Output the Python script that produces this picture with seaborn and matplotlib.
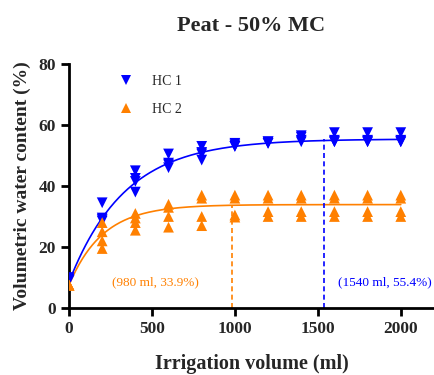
import numpy as np
import pandas as pd
import matplotlib
matplotlib.use("Agg")
import matplotlib.pyplot as plt
import seaborn as sns

# -----------------------
# DATA
# -----------------------
volumes = [0, 200, 400, 600, 800, 1000, 1200, 1400, 1600, 1800, 2000]

hc1_reps = [
    [9.5, 9.5, 10.0, 9.0],
    [34.5, 29.5, 29.0, 28.5],
    [45.0, 42.5, 41.5, 38.0],
    [50.5, 47.5, 47.0, 46.0],
    [53.0, 51.0, 50.5, 48.5],
    [54.0, 53.5, 53.0, 53.0],
    [54.5, 54.5, 54.0, 54.0],
    [56.5, 56.0, 55.0, 54.5],
    [57.5, 55.0, 54.5, 54.5],
    [57.5, 55.0, 54.5, 54.5],
    [57.5, 55.0, 54.5, 54.5],
]

hc2_reps = [
    [7.5, 7.5, 7.5, 7.5],
    [28.0, 25.0, 22.0, 19.5],
    [31.0, 29.5, 28.0, 25.5],
    [34.0, 33.0, 30.0, 26.5],
    [37.0, 36.0, 30.0, 27.0],
    [37.0, 36.0, 30.5, 29.8],
    [37.0, 36.0, 31.6, 30.0],
    [37.0, 36.0, 31.6, 30.0],
    [37.0, 36.0, 31.6, 30.0],
    [37.0, 36.0, 31.6, 30.0],
    [37.0, 36.0, 31.6, 30.0],
]

# one-phase association fit: Y = Y0 + (Plateau - Y0) * (1 - exp(-K x))
fit_y0 = {"HC 1": 8.5, "HC 2": 7.5}
fit_plateau = {"HC 1": 55.4, "HC 2": 33.9}
fit_k = {"HC 1": 0.00297, "HC 2": 0.0049}

# where each curve levels off
level_x = {"HC 1": 1540, "HC 2": 980}
level_text = {"HC 1": "(1540 ml, 55.4%)", "HC 2": "(980 ml, 33.9%)"}
text_x = {"HC 1": 1905, "HC 2": 520}

colors = {"HC 1": "#0000FF", "HC 2": "#FF8000"}
markers = {"HC 1": "v", "HC 2": "^"}

# -----------------------
# LONG TABLES
# -----------------------
rows = []
for name, reps in [("HC 1", hc1_reps), ("HC 2", hc2_reps)]:
    for v, vals in zip(volumes, reps):
        for val in vals:
            rows.append({"volume": v, "vwc": val, "group": name})
df = pd.DataFrame(rows)

xs = np.linspace(0, 2000, 300)
curve_rows = []
for name in ["HC 1", "HC 2"]:
    ys = fit_y0[name] + (fit_plateau[name] - fit_y0[name]) * (1 - np.exp(-fit_k[name] * xs))
    for a, b in zip(xs, ys):
        curve_rows.append({"volume": a, "vwc": b, "group": name})
curves = pd.DataFrame(curve_rows)

# -----------------------
# PLOT
# -----------------------
sns.set_theme(style="ticks")
plt.rcParams["font.family"] = ["Liberation Serif", "DejaVu Serif"]

fig = plt.figure(figsize=(4.35, 3.75), dpi=100)
ax = fig.add_axes([0.1586, 0.1787, 0.839, 0.6506])

sns.lineplot(data=curves, x="volume", y="vwc", hue="group", palette=colors,
             linewidth=1.2, legend=False, ax=ax)
sns.scatterplot(data=df, x="volume", y="vwc", hue="group", style="group",
                palette=colors, markers=markers, s=60, linewidth=0,
                ax=ax, zorder=3)

for name in ["HC 1", "HC 2"]:
    ax.vlines(level_x[name], 0, fit_plateau[name], colors=colors[name],
              linestyles=(0, (3, 2)), linewidth=1.2)
    ax.text(text_x[name], 8.5, level_text[name], color=colors[name],
            fontsize=9.5, ha="center", va="center")

ax.set_xlim(0, 2200)
ax.set_ylim(0, 80)
ax.set_xticks([0, 500, 1000, 1500, 2000])
ax.set_yticks([0, 20, 40, 60, 80])
ax.set_title("Peat - 50% MC", fontsize=16, fontweight="bold", pad=24, x=0.5)
ax.set_xlabel("Irrigation volume (ml)", fontsize=14.5, fontweight="bold", labelpad=12)
ax.set_ylabel("Volumetric water content (%)", fontsize=14, fontweight="bold", labelpad=5)

for lab in ax.get_xticklabels() + ax.get_yticklabels():
    lab.set_fontweight("bold")
ax.tick_params(axis="both", labelsize=12.5, width=2, length=6, color="black")
for side in ["left", "bottom"]:
    ax.spines[side].set_linewidth(2)
    ax.spines[side].set_color("black")
sns.despine(ax=ax)

handles, labels = ax.get_legend_handles_labels()
ax.legend(handles, labels, frameon=False, loc="upper left",
          bbox_to_anchor=(0.083, 1.005), fontsize=10, labelspacing=1.05,
          handletextpad=0.9, markerscale=1.0)

fig.savefig("out.png", dpi=100)
